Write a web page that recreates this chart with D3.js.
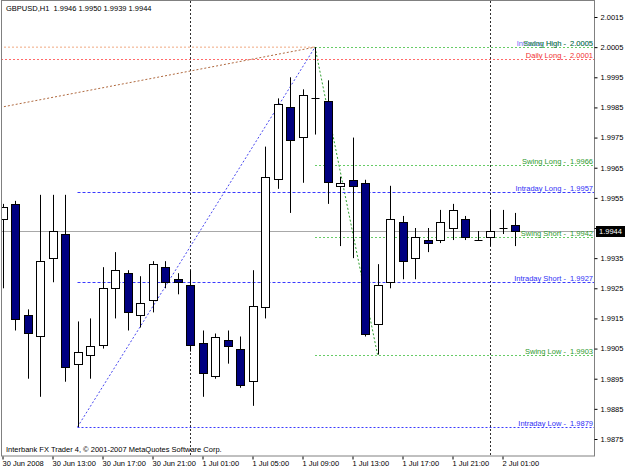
<!DOCTYPE html>
<html>
<head>
<meta charset="utf-8">
<script src="https://cdn.jsdelivr.net/npm/d3@7"></script>
<style>
  body { margin: 0; background: #fff; }
  text { font-family: "Liberation Sans", Arial, sans-serif; font-size: 7.5px; white-space: pre; }
</style>
</head>
<body>
<div id="screen"></div>
<script>
// hourly bars, 30 Jun 2008 09:00 .. 2 Jul 2008 02:00
var opens  = [1.9948, 1.9953, 1.9916, 1.9909, 1.9935, 1.9943, 1.9900, 1.9903, 1.9906, 1.9925, 1.9930, 1.9916, 1.9921, 1.9932,
              1.9928, 1.9926, 1.9907, 1.9896, 1.9908, 1.9905, 1.9894, 1.9919, 1.9961, 1.9985, 1.9975, 1.9988, 1.9987, 1.9959,
              1.9961, 1.9960, 1.9913, 1.9927, 1.9947, 1.9935, 1.9941, 1.9941, 1.9945, 1.9948, 1.9941, 1.9942, 1.9945, 1.9946];
var highs  = [1.9953, 1.9954, 1.9918, 1.9956, 1.9956, 1.9956, 1.9914, 1.9915, 1.9932, 1.9937, 1.9931, 1.9929, 1.9934, 1.9934,
              1.9930, 1.9931, 1.9911, 1.9910, 1.9911, 1.9909, 1.9931, 1.9972, 1.9988, 1.9995, 1.9991, 2.0005, 1.9994, 1.9962,
              1.9975, 1.9961, 1.9933, 1.9959, 1.9949, 1.9945, 1.9945, 1.9951, 1.9953, 1.9949, 1.9944, 1.9951, 1.9951, 1.9950];
var lows   = [1.9925, 1.9911, 1.9895, 1.9889, 1.9927, 1.9894, 1.9879, 1.9895, 1.9905, 1.9915, 1.9911, 1.9912, 1.9917, 1.9925,
              1.9923, 1.9904, 1.9889, 1.9895, 1.9900, 1.9892, 1.9886, 1.9915, 1.9958, 1.9950, 1.9960, 1.9976, 1.9953, 1.9939,
              1.9935, 1.9909, 1.9903, 1.9925, 1.9928, 1.9928, 1.9937, 1.9940, 1.9941, 1.9941, 1.9941, 1.9939, 1.9943, 1.9939];
var closes = [1.9952, 1.9915, 1.9910, 1.9934, 1.9944, 1.9899, 1.9904, 1.9906, 1.9925, 1.9931, 1.9917, 1.9920, 1.9933, 1.9927,
              1.9927, 1.9906, 1.9897, 1.9909, 1.9906, 1.9893, 1.9919, 1.9962, 1.9986, 1.9974, 1.9989, 1.9988, 1.9960, 1.9960,
              1.9959, 1.9910, 1.9926, 1.9948, 1.9934, 1.9942, 1.9940, 1.9947, 1.9951, 1.9942, 1.9941, 1.9944, 1.9945, 1.9944];

var timeTicks = [0, 4, 8, 12, 16, 20, 24, 28, 32, 36, 40];
var timeLabels = ["30 Jun 2008", "30 Jun 13:00", "30 Jun 17:00", "30 Jun 21:00", "1 Jul 01:00", "1 Jul 05:00",
                  "1 Jul 09:00", "1 Jul 13:00", "1 Jul 17:00", "1 Jul 21:00", "2 Jul 01:00"];
var dayBreaks = [15, 39];
var priceTicks = [2.0015, 2.0005, 1.9995, 1.9985, 1.9975, 1.9965, 1.9955, 1.9945, 1.9935, 1.9925, 1.9915, 1.9905, 1.9895, 1.9885, 1.9875];
var priceTickLabels = ["2.0015", "2.0005", "1.9995", "1.9985", "1.9975", "1.9965", "1.9955", "", "1.9935", "1.9925", "1.9915", "1.9905", "1.9895", "1.9885", "1.9875"];

// levels drawn by the indicator
var levelNames  = ["Intraday High", "Swing High", "Daily Long", "Swing Long", "Intraday Long", "Swing Short", "Intraday Short", "Swing Low", "Intraday Low"];
var levelPrices = [2.0005, 2.0005, 2.0001, 1.9966, 1.9957, 1.9942, 1.9927, 1.9903, 1.9879];
var levelKinds  = ["intraday", "swing", "daily", "swing", "intraday", "swing", "intraday", "swing", "intraday"];
var levelStart  = [25, 25, -0.2, 25, 6, 25, 6, 25, 6];

// zigzag legs (bar index, price)
var brownLeg = [[-0.2, 1.9985], [25, 2.0005]];
var blueLeg  = [[6, 1.9879], [25, 2.0005]];
var greenLeg = [[25, 2.0005], [30, 1.9903]];
var highLine = [[-0.2, 2.0005], [25, 2.0005]];

var symbol = "GBPUSD,H1";
var lastPrice = 1.9944;

var width = 625, height = 469;
var plotLeft = 1, plotRight = 594, plotTop = 1, plotBottom = 456;

var svg = d3.select("#screen").append("svg").attr("width", width).attr("height", height);
var container = svg.append("g");

var x = d3.scaleLinear().domain([0, 41]).range([2.5, 515]);
var y = d3.scaleLinear().domain([1.9875, 2.0015]).range([439, 17]);

var kindColour = {intraday: "#2f2ff5", swing: "#2e9a2e", daily: "#f03030"};
var kindLine = {intraday: "#3a3aff", swing: "#66cc66", daily: "#ff6a6a"};
var kindDash = {intraday: "3,2", swing: "2,2", daily: "2,2"};

svg.append("clipPath").attr("id", "clip")
    .append("rect").attr("x", plotLeft + 1).attr("y", plotTop).attr("width", plotRight - plotLeft - 1).attr("height", plotBottom - plotTop);
var plot = container.append("g").attr("clip-path", "url(#clip)");

// day separators
plot.selectAll(".sep").data(dayBreaks).enter().append("line").attr("class", "sep")
    .attr("x1", d => Math.round(x(d)) + 0.5).attr("x2", d => Math.round(x(d)) + 0.5)
    .attr("y1", plotTop).attr("y2", plotBottom)
    .attr("stroke", "#303030").attr("stroke-dasharray", "2,2");

// bid line
plot.append("line")
    .attr("x1", plotLeft).attr("x2", plotRight)
    .attr("y1", Math.round(y(lastPrice)) + 0.5).attr("y2", Math.round(y(lastPrice)) + 0.5)
    .attr("stroke", "#a8a8a8");

// zigzag legs
var line = d3.line().x(d => x(d[0])).y(d => y(d[1]));
plot.append("path").attr("d", line(highLine)).attr("fill", "none").attr("stroke", "#f0a880").attr("stroke-dasharray", "2,2");
plot.append("path").attr("d", line(brownLeg)).attr("fill", "none").attr("stroke", "#b06a40").attr("stroke-dasharray", "2,2");
plot.append("path").attr("d", line(blueLeg)).attr("fill", "none").attr("stroke", "#4848f0").attr("stroke-dasharray", "2,2");
plot.append("path").attr("d", line(greenLeg)).attr("fill", "none").attr("stroke", "#30a030").attr("stroke-dasharray", "2,2");

// level lines
levelNames.forEach(function(name, i) {
    if (name === "Intraday High") return;
    var ly = Math.round(y(levelPrices[i])) + 0.5;
    plot.append("line").attr("class", "level")
        .attr("x1", Math.max(plotLeft, x(levelStart[i]))).attr("x2", plotRight)
        .attr("y1", ly).attr("y2", ly)
        .attr("stroke", kindLine[levelKinds[i]])
        .attr("stroke-dasharray", name === "Intraday Low" ? "2,2" : kindDash[levelKinds[i]]);
});

// candles
var bars = d3.range(opens.length);
plot.selectAll(".wick").data(bars).enter().append("line").attr("class", "wick")
    .attr("x1", d => Math.round(x(d)) + 0.5).attr("x2", d => Math.round(x(d)) + 0.5)
    .attr("y1", d => y(highs[d])).attr("y2", d => y(lows[d]))
    .attr("stroke", "#000");

plot.selectAll(".body").data(bars.filter(d => opens[d] !== closes[d])).enter().append("rect").attr("class", "body")
    .attr("x", d => Math.round(x(d)) - 3.5)
    .attr("width", 8)
    .attr("y", d => Math.round(y(Math.max(opens[d], closes[d]))) + 0.5)
    .attr("height", d => Math.max(1, Math.round(Math.abs(y(opens[d]) - y(closes[d])))))
    .attr("fill", d => closes[d] > opens[d] ? "#fff" : "#000080")
    .attr("stroke", "#000");

plot.selectAll(".doji").data(bars.filter(d => opens[d] === closes[d])).enter().append("line").attr("class", "doji")
    .attr("x1", d => Math.round(x(d)) - 3.5).attr("x2", d => Math.round(x(d)) + 4.5)
    .attr("y1", d => Math.round(y(opens[d])) + 0.5).attr("y2", d => Math.round(y(opens[d])) + 0.5)
    .attr("stroke", "#000");

// level labels (Intraday High and Swing High sit on top of each other, as in the terminal)
levelNames.forEach(function(name, i) {
    container.append("text")
        .attr("x", plotRight - 1).attr("y", Math.round(y(levelPrices[i])) - 1.5)
        .attr("text-anchor", "end")
        .attr("fill", kindColour[levelKinds[i]])
        .attr("opacity", name === "Intraday High" ? 0.75 : 1)
        .text(name + " -  " + levelPrices[i].toFixed(4));
});

// frame
container.append("rect")
    .attr("x", plotLeft + 0.5).attr("y", plotTop - 0.5).attr("width", plotRight - plotLeft).attr("height", plotBottom - plotTop + 0.5)
    .attr("fill", "none").attr("stroke", "#808080");

// right price axis
var yAxis = d3.axisRight(y).tickValues(priceTicks).tickSize(3).tickPadding(3)
    .tickFormat((d, i) => priceTickLabels[i]);
var ya = container.append("g").attr("transform", "translate(" + (plotRight + 0.5) + ",0)").call(yAxis);
ya.select(".domain").remove();
ya.selectAll("line").attr("stroke", "#000");
ya.selectAll("text").attr("fill", "#000").style("font-size", "7.5px").style("font-family", "Liberation Sans, Arial, sans-serif");

// current price box
container.append("rect").attr("x", plotRight + 2).attr("y", Math.round(y(lastPrice)) - 5).attr("width", 29).attr("height", 11).attr("fill", "#000");
container.append("text").attr("x", plotRight + 5).attr("y", Math.round(y(lastPrice)) + 3).attr("fill", "#fff").text(lastPrice.toFixed(4));

// bottom time axis
var xAxis = d3.axisBottom(x).tickValues(timeTicks).tickSize(3).tickPadding(1)
    .tickFormat((d, i) => timeLabels[i]);
var xa = container.append("g").attr("transform", "translate(0," + (plotBottom + 0.5) + ")").call(xAxis);
xa.select(".domain").remove();
xa.selectAll("line").attr("stroke", "#000");
xa.selectAll("text").attr("text-anchor", "start").attr("dx", "-0.5").attr("fill", "#000")
    .style("font-size", "7.5px").style("font-family", "Liberation Sans, Arial, sans-serif");

// title and footer
container.append("text").attr("x", 6).attr("y", 11).attr("fill", "#000")
    .text(symbol + "  " + [opens[41], highs[41], lows[41], closes[41]].map(v => v.toFixed(4)).join(" "));
container.append("text").attr("x", 6).attr("y", 452).attr("fill", "#000")
    .text("Interbank FX Trader 4, \u00a9 2001-2007 MetaQuotes Software Corp.");
</script>
</body>
</html>
